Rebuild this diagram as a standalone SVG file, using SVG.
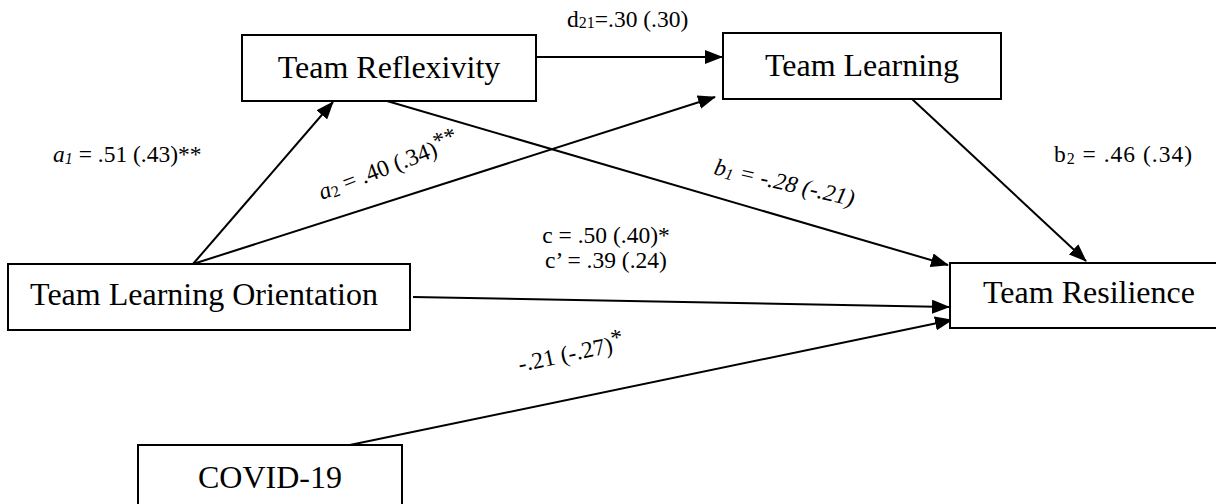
<svg xmlns="http://www.w3.org/2000/svg" width="1216" height="504" viewBox="0 0 1216 504">
<style>
.box{fill:#fff;stroke:#000;stroke-width:2}
.nt{font-family:"Liberation Serif","Times New Roman",serif;font-size:32px;fill:#000;text-anchor:middle}
.lb{font-family:"Liberation Serif","Times New Roman",serif;font-size:23.5px;fill:#000}
.it{font-style:italic}
.cn{stroke:#000;stroke-width:2;fill:none;marker-end:url(#ah)}
</style>
<defs>
<marker id="ah" markerUnits="userSpaceOnUse" markerWidth="18" markerHeight="14" refX="17" refY="7" orient="auto">
<path d="M0,0 L18,7 L0,14 z" fill="#000"/>
</marker>
</defs>
<rect width="1216" height="504" fill="#fff"/>
<g id="connectors">
<line class="cn" x1="193" y1="264" x2="333" y2="102"/>
<line class="cn" x1="193" y1="264" x2="715" y2="97"/>
<line class="cn" x1="536" y1="57" x2="722" y2="57"/>
<line class="cn" x1="387" y1="101" x2="948" y2="265"/>
<line class="cn" x1="912" y1="99" x2="1086" y2="261"/>
<line class="cn" x1="413" y1="297" x2="949" y2="307"/>
<line class="cn" x1="345" y1="446" x2="952" y2="320"/>
</g>
<g id="node-team-reflexivity">
<rect class="box" x="242" y="35" width="294" height="66"/>
<text class="nt" x="389" y="78">Team Reflexivity</text>
</g>
<g id="node-team-learning">
<rect class="box" x="723" y="33" width="278" height="66"/>
<text class="nt" x="862" y="76">Team Learning</text>
</g>
<g id="node-team-learning-orientation">
<rect class="box" x="8" y="264" width="402" height="66"/>
<text class="nt" x="204" y="305">Team Learning Orientation</text>
</g>
<g id="node-team-resilience">
<rect class="box" x="950" y="263" width="278" height="65"/>
<text class="nt" x="1089" y="303">Team Resilience</text>
</g>
<g id="node-covid">
<rect class="box" x="138" y="445" width="264" height="66"/>
<text class="nt" x="270" y="488">COVID-19</text>
</g>
<g id="labels">
<text class="lb" x="53" y="162"><tspan class="it">a</tspan><tspan class="it" font-size="16" dy="2">1</tspan><tspan dy="-2"> = .51 (.43)**</tspan></text>
<text class="lb" x="567" y="27">d<tspan font-size="16" dy="1">21</tspan><tspan dy="-1">=.30 (.30)</tspan></text>
<text class="lb" x="1054" y="162" textLength="138" lengthAdjust="spacing">b<tspan font-size="16" dy="2">2</tspan><tspan dy="-2"> = .46 (.34)</tspan></text>
<text class="lb" x="606" y="243" text-anchor="middle">c = .50 (.40)*</text>
<text class="lb" x="606" y="268" text-anchor="middle">c’ = .39 (.24)</text>
<text class="lb" transform="translate(322,200) rotate(-21)"><tspan class="it">a</tspan><tspan font-size="16" dy="2">2</tspan><tspan dy="-2"> = .40 (.34)</tspan><tspan dy="-6">**</tspan></text>
<text class="lb it" transform="translate(713,174) rotate(13)">b<tspan font-size="16" dy="2">1</tspan><tspan dy="-2"> = -.28 (-.21)</tspan></text>
<text class="lb" transform="translate(520,372) rotate(-12)">-.21 (-.27)<tspan dy="-6">*</tspan></text>
</g>
</svg>
